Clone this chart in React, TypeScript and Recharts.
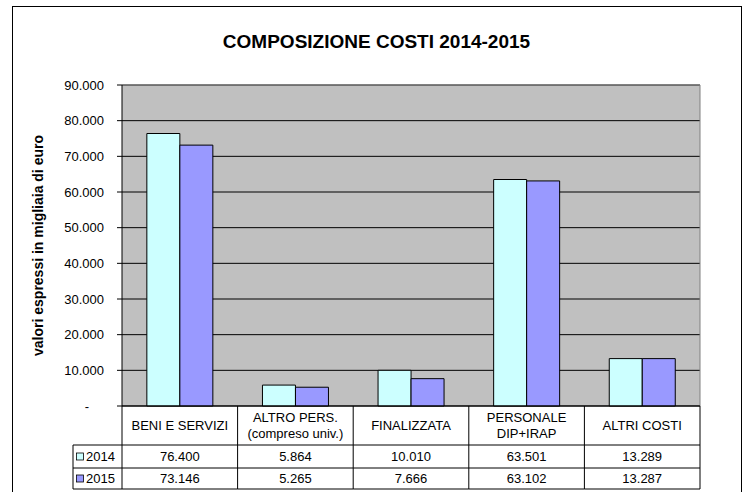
import { Bar, BarChart, CartesianGrid, XAxis, YAxis } from "recharts";

const categories = [
  "BENI E SERVIZI",
  "ALTRO PERS.\n(compreso univ.)",
  "FINALIZZATA",
  "PERSONALE\nDIP+IRAP",
  "ALTRI COSTI",
];
const costi2014 = [76400, 5864, 10010, 63501, 13289];
const costi2015 = [73146, 5265, 7666, 63102, 13287];
const yTicks = [0, 10000, 20000, 30000, 40000, 50000, 60000, 70000, 80000, 90000];

const FONT = "'Liberation Sans', Arial, sans-serif";
const C2014 = "#CCFFFF";
const C2015 = "#9999FF";

const W = 751;
const H = 492;
const Y_W = 122;
const X_H = 86;
const MARGIN = { top: 85, right: 51, left: 0, bottom: 0 };
const PLOT_L = Y_W;
const PLOT_R = W - MARGIN.right;
const PLOT_B = H - X_H;
const COL_W = (PLOT_R - PLOT_L) / categories.length;
const ROW_HEAD = 445;
const ROW_1 = 468;
const ROW_2 = 489;
const LEG_L = 73;

const data = categories.map((name, i) => ({
  name,
  y2014: costi2014[i],
  y2015: costi2015[i],
}));

const fmt = (n: number) => String(n).replace(/\B(?=(\d{3})+(?!\d))/g, ".");

function YTick({ x, y, payload }: any) {
  const v = payload.value;
  if (v === 0) {
    return (
      <text x={x - 17} y={y} dy="0.35em" textAnchor="middle" fontSize={13} fontFamily={FONT} fill="#000">
        -
      </text>
    );
  }
  return (
    <text x={x} y={y} dy="0.35em" textAnchor="end" fontSize={13} fontFamily={FONT} fill="#000">
      {fmt(v)}
    </text>
  );
}

function TableTick({ x, payload }: any) {
  const i = categories.indexOf(payload.value);
  const left = x - COL_W / 2;
  const right = x + COL_W / 2;
  const lines = String(payload.value).split("\n");
  const txt = { fontSize: 13, fontFamily: FONT, fill: "#000", textAnchor: "middle" as const };
  return (
    <g>
      {i === 0 && (
        <g>
          <line x1={left} y1={PLOT_B} x2={left} y2={ROW_2} stroke="#000" />
          <line x1={LEG_L} y1={ROW_HEAD} x2={left} y2={ROW_HEAD} stroke="#000" />
          <line x1={LEG_L} y1={ROW_1} x2={left} y2={ROW_1} stroke="#000" />
          <line x1={LEG_L} y1={ROW_2} x2={left} y2={ROW_2} stroke="#000" />
          <line x1={LEG_L} y1={ROW_HEAD} x2={LEG_L} y2={ROW_2} stroke="#000" />
          <rect x={LEG_L + 3.5} y={(ROW_HEAD + ROW_1) / 2 - 3.5} width={7} height={7} fill={C2014} stroke="#000" strokeWidth={0.8} />
          <text x={LEG_L + 13} y={(ROW_HEAD + ROW_1) / 2} dy="0.35em" fontSize={13} fontFamily={FONT} fill="#000">
            2014
          </text>
          <rect x={LEG_L + 3.5} y={(ROW_1 + ROW_2) / 2 - 3.5} width={7} height={7} fill={C2015} stroke="#000" strokeWidth={0.8} />
          <text x={LEG_L + 13} y={(ROW_1 + ROW_2) / 2} dy="0.35em" fontSize={13} fontFamily={FONT} fill="#000">
            2015
          </text>
        </g>
      )}
      <line x1={right} y1={PLOT_B} x2={right} y2={ROW_2} stroke="#000" />
      <line x1={left} y1={ROW_HEAD} x2={right} y2={ROW_HEAD} stroke="#000" />
      <line x1={left} y1={ROW_1} x2={right} y2={ROW_1} stroke="#000" />
      <line x1={left} y1={ROW_2} x2={right} y2={ROW_2} stroke="#000" />
      {lines.length === 1 ? (
        <text x={x} y={(PLOT_B + ROW_HEAD) / 2} dy="0.35em" {...txt}>
          {lines[0]}
        </text>
      ) : (
        lines.map((l, k) => (
          <text key={k} x={x} y={(PLOT_B + ROW_HEAD) / 2 + (k === 0 ? -8 : 8)} dy="0.35em" {...txt}>
            {l}
          </text>
        ))
      )}
      <text x={x} y={(ROW_HEAD + ROW_1) / 2} dy="0.35em" {...txt}>
        {fmt(costi2014[i])}
      </text>
      <text x={x} y={(ROW_1 + ROW_2) / 2} dy="0.35em" {...txt}>
        {fmt(costi2015[i])}
      </text>
    </g>
  );
}

export default function App() {
  return (
    <div style={{ position: "absolute", left: 0, top: 0, width: W, height: H, background: "#fff", overflow: "hidden" }}>
      <div
        style={{
          position: "absolute",
          left: 12,
          top: 6,
          width: 728,
          height: 500,
          border: "1.5px solid #000",
          pointerEvents: "none",
        }}
      />
      <div
        style={{
          position: "absolute",
          left: 0,
          top: 30,
          width: W + 2,
          textAlign: "center",
          fontFamily: FONT,
          fontWeight: "bold",
          fontSize: 19,
          lineHeight: "24px",
          color: "#000",
        }}
      >
        COMPOSIZIONE COSTI 2014-2015
      </div>
      <BarChart width={W} height={H} data={data} margin={MARGIN} barCategoryGap="21.5%" barGap={0}>
        <CartesianGrid vertical={false} stroke="#000" fill="#C0C0C0" fillOpacity={1} />
        <CartesianGrid
          stroke="#808080"
          fill="none"
          horizontalCoordinatesGenerator={({ offset }: any) => [offset.top]}
          verticalCoordinatesGenerator={({ offset }: any) => [offset.left + offset.width]}
        />
        <XAxis
          dataKey="name"
          interval={0}
          height={X_H}
          tickLine={false}
          axisLine={{ stroke: "#000" }}
          tick={(p: any) => <TableTick {...p} />}
        />
        <YAxis
          width={Y_W}
          domain={[0, 90000]}
          ticks={yTicks}
          interval={0}
          tickSize={5}
          tickMargin={13}
          tickLine={{ stroke: "#000" }}
          axisLine={{ stroke: "#000" }}
          tick={(p: any) => <YTick {...p} />}
          label={{
            value: "valori espressi in migliaia di euro",
            angle: -90,
            position: "center",
            dx: -23,
            style: { fontFamily: FONT, fontWeight: "bold", fontSize: 14, fill: "#000" },
          }}
        />
        <Bar dataKey="y2014" name="2014" fill={C2014} stroke="#000" strokeWidth={1} isAnimationActive={false} />
        <Bar dataKey="y2015" name="2015" fill={C2015} stroke="#000" strokeWidth={1} isAnimationActive={false} />
      </BarChart>
    </div>
  );
}
